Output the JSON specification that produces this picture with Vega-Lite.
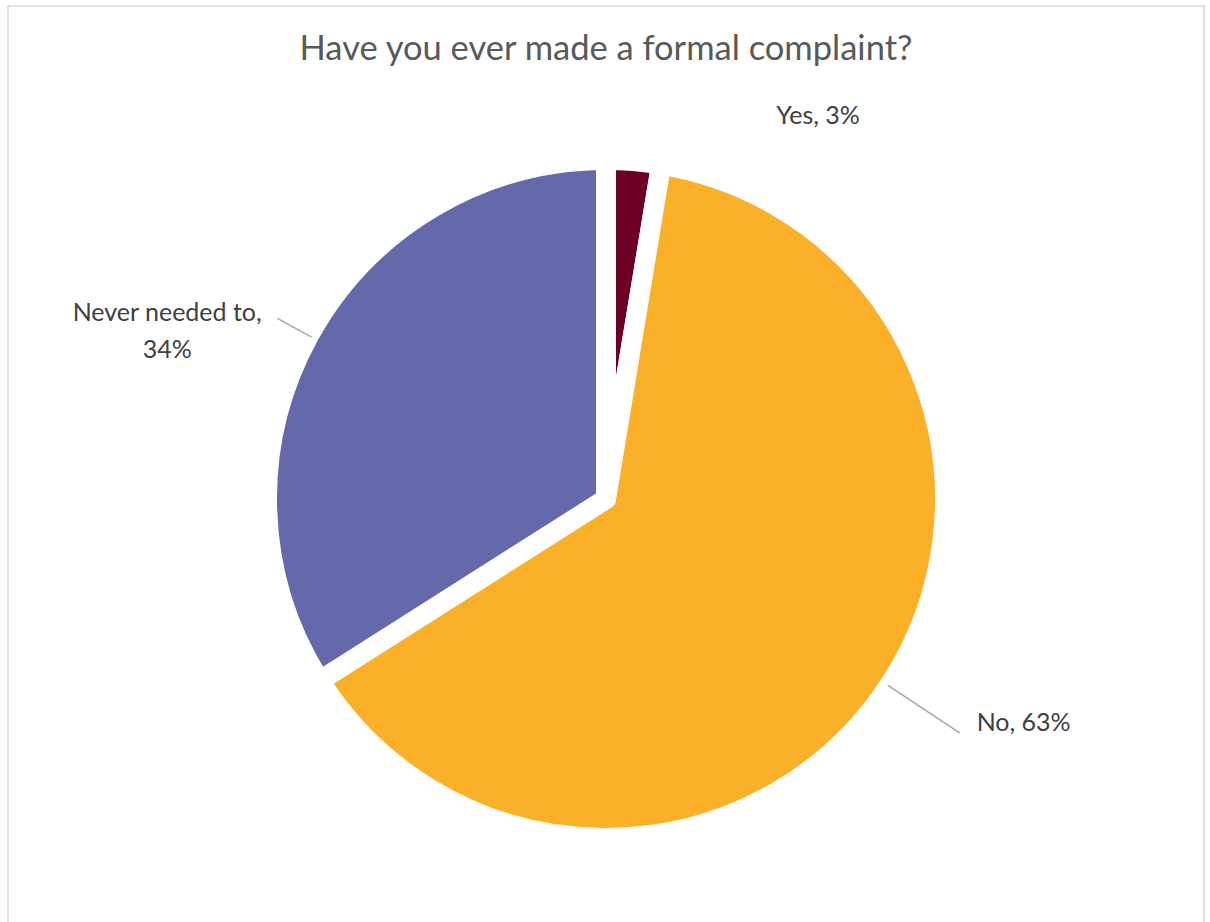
{
  "$schema": "https://vega.github.io/schema/vega-lite/v6.json",
  "width": 1196,
  "height": 986,
  "autosize": "none",
  "padding": {"left": 8, "top": 6, "right": 6, "bottom": -70},
  "background": "white",
  "view": {"stroke": "#d9d9d9", "strokeWidth": 1.5, "fill": "white"},
  "title": {
    "text": "Have you ever made a formal complaint?",
    "font": "Lato",
    "fontSize": 34.5,
    "fontWeight": "normal",
    "color": "#595959",
    "offset": -61,
    "anchor": "middle"
  },
  "data": {
    "values": [
      {"category": "Yes", "percent": 2.6, "label": "Yes, 3%", "n": 1},
      {"category": "No", "percent": 63.4, "label": "No, 63%", "n": 2},
      {"category": "Never needed to", "percent": 34, "label": "Never needed to,|34%", "n": 3}
    ]
  },
  "encoding": {
    "theta": {"field": "percent", "type": "quantitative", "stack": true},
    "order": {"field": "n", "type": "quantitative"}
  },
  "layer": [
    {
      "mark": {"type": "arc", "outerRadius": 339, "stroke": "white", "strokeWidth": 20, "strokeJoin": "round"},
      "encoding": {
        "color": {
          "field": "category",
          "type": "nominal",
          "scale": {"domain": ["Yes", "No", "Never needed to"], "range": ["#6B0022", "#FBB02A", "#6568AA"]},
          "legend": null
        }
      }
    },
    {
      "transform": [{"stack": "percent", "groupby": [], "sort": [{"field": "n", "order": "ascending"}], "as": ["t0", "t1"]}],
      "mark": {"type": "arc", "innerRadius": 338, "outerRadius": 424, "padAngle": 3.14, "thetaOffset": 0.6, "theta2Offset": -0.6, "filled": false, "stroke": "#a6a6a6", "strokeWidth": 1.5},
      "encoding": {
        "theta": {"field": "t0", "type": "quantitative"},
        "theta2": {"field": "t1"},
        "strokeOpacity": {"condition": {"test": "datum.category === 'No'", "value": 1}, "value": 0}
      }
    },
    {
      "mark": {"type": "arc", "innerRadius": 336, "outerRadius": 375, "padAngle": 3.14, "filled": false, "stroke": "#a6a6a6", "strokeWidth": 1.5},
      "encoding": {"strokeOpacity": {"condition": {"test": "datum.category === 'Never needed to'", "value": 1}, "value": 0}}
    },
    {
      "mark": {"type": "text", "radius": 384, "align": "left", "baseline": "middle", "dx": 139, "font": "Lato", "fontSize": 25, "color": "#404040"},
      "encoding": {"text": {"condition": {"test": "datum.category === 'Yes'", "field": "label"}, "value": ""}}
    },
    {
      "mark": {"type": "text", "radius": 406, "align": "left", "baseline": "middle", "dx": 32, "font": "Lato", "fontSize": 25, "color": "#404040"},
      "encoding": {"text": {"condition": {"test": "datum.category === 'No'", "field": "label"}, "value": ""}}
    },
    {
      "mark": {"type": "text", "radius": 349, "align": "center", "baseline": "middle", "dx": -133, "dy": -18, "lineBreak": "|", "lineHeight": 37, "font": "Lato", "fontSize": 25, "color": "#404040"},
      "encoding": {"text": {"condition": {"test": "datum.category === 'Never needed to'", "field": "label"}, "value": ""}}
    }
  ]
}
